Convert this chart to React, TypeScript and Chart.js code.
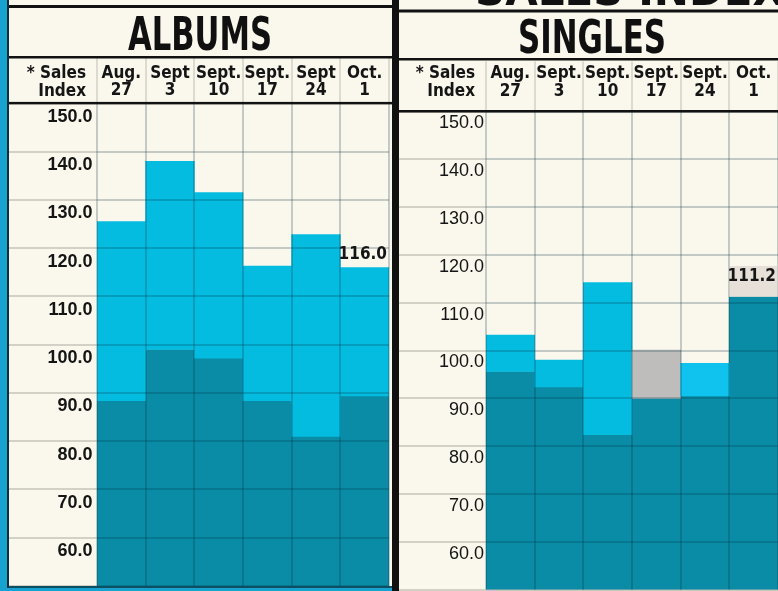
import React, { useEffect, useRef } from 'react';
import { Chart, registerables } from 'chart.js';

Chart.register(...registerables);

// ---------- data ----------
const albumWeeks = [['Aug.', '27'], ['Sept', '3'], ['Sept.', '10'], ['Sept.', '17'], ['Sept', '24'], ['Oct.', '1']];
const singleWeeks = [['Aug.', '27'], ['Sept.', '3'], ['Sept.', '10'], ['Sept.', '17'], ['Sept.', '24'], ['Oct.', '1']];

const albumsLower = [88.4, 99.0, 97.2, 88.4, 81.0, 89.4];
const albumsUpper = [125.5, 138.0, 131.5, 116.3, 122.8, 116.0];

const singlesLower = [95.6, 92.4, 82.4, 90.0, 90.5, 111.2];
const singlesUpper: (number | null)[] = [103.2, 98.0, 114.2, 100.1, 97.3, null];

const indexMin = 50;
const indexMax = 150;
const indexStep = 10;

const axisHeader = ['* Sales', 'Index'];
const headline = 'SALES INDEX';

// ---------- style ----------
const CREAM = '#FAF7EC';
const CYAN_BG = '#17A2CF';
const DARK = '#0A8BA6';
const LIGHT = '#04BCE0';
const GRAY = '#BEBDBB';
const BRIGHT = '#10C2EE';
const GRID = 'rgba(0,45,65,0.22)';
const SIDEGRID = 'rgba(110,110,100,0.28)';
const INK = '#151515';
const COND = "'Liberation Sans Narrow', 'DejaVu Sans Condensed', 'Arial Narrow', sans-serif";
const SANS = "'Liberation Sans', Arial, Helvetica, sans-serif";

type PanelCfg = {
  title: string;
  weeks: string[][];
  lower: number[];
  upper: (number | null)[];
  upperColors: string[];
  width: number;
  height: number;
  padTop: number;
  padRight: number;
  padBottom: number;
  axisW: number;
  headH: number;
  xPad: number;
  yPad: number;
  yLabelOffset: number;
  yWeight: string;
  titleX: number;
  titleBase: number;
  titleW: number;
  topLineY: number;
  titleLineY: number;
  labelRise: number;
  labelBox: boolean;
  headline?: { x: number; w: number; base: number };
};

function makeDecor(cfg: PanelCfg) {
  return {
    id: 'decor',
    afterDraw(chart: any) {
      const { ctx, chartArea } = chart;
      const W = chart.width;
      ctx.save();
      // black rules
      ctx.fillStyle = '#121212';
      ctx.fillRect(0, cfg.topLineY, W, 3);
      ctx.fillRect(0, cfg.titleLineY, W, 2.5);
      ctx.fillRect(0, chartArea.top - 1.5, W, 2.5);

      // clipped headline above top rule
      if (cfg.headline) {
        ctx.save();
        ctx.beginPath();
        ctx.rect(0, 0, W, cfg.topLineY);
        ctx.clip();
        ctx.font = `bold 44px ${COND}`;
        const hw = ctx.measureText(headline).width;
        ctx.translate(cfg.headline.x, cfg.headline.base);
        ctx.scale(cfg.headline.w / hw, 1);
        ctx.textAlign = 'left';
        ctx.textBaseline = 'alphabetic';
        ctx.fillStyle = '#111';
        ctx.fillText(headline, 0, 0);
        ctx.restore();
      }

      // panel title
      ctx.save();
      ctx.font = `bold 46px ${COND}`;
      const tw = ctx.measureText(cfg.title).width;
      ctx.translate(cfg.titleX, cfg.titleBase);
      ctx.scale(cfg.titleW / tw, 1);
      ctx.textAlign = 'center';
      ctx.textBaseline = 'alphabetic';
      ctx.fillStyle = '#101010';
      ctx.fillText(cfg.title, 0, 0);
      ctx.restore();

      // "* Sales Index" header
      ctx.font = `bold 17px ${COND}`;
      ctx.fillStyle = INK;
      ctx.textAlign = 'right';
      ctx.textBaseline = 'middle';
      ctx.fillText(axisHeader[0], chartArea.left - 11, 73.5);
      ctx.fillText(axisHeader[1], chartArea.left - 11, 91.5);

      // value label on the latest week
      const last = cfg.lower.length - 1;
      const topVal = cfg.upper[last] ?? cfg.lower[last];
      const el: any = chart.getDatasetMeta(0).data[last];
      const yPix = chart.scales.y.getPixelForValue(topVal);
      const half = el.width / 2;
      const mid = yPix - cfg.labelRise;
      if (cfg.labelBox) {
        ctx.fillStyle = 'rgba(215,205,200,0.55)';
        ctx.fillRect(el.x - half, mid - 11, el.width, yPix - (mid - 11));
      }
      ctx.font = `bold 17px ${COND}`;
      ctx.fillStyle = INK;
      ctx.textAlign = 'right';
      ctx.textBaseline = 'middle';
      ctx.fillText(topVal.toFixed(1), el.x + half - 2, mid);
      ctx.restore();
    },
  };
}

function Panel({ cfg, left }: { cfg: PanelCfg; left: number }) {
  const ref = useRef<HTMLCanvasElement>(null);
  useEffect(() => {
    const chart = new Chart(ref.current as HTMLCanvasElement, {
      type: 'bar',
      data: {
        labels: cfg.weeks,
        datasets: [
          {
            label: 'lower',
            data: cfg.lower,
            backgroundColor: DARK,
            borderWidth: 0,
            grouped: false,
            barPercentage: 1,
            categoryPercentage: 1,
            order: 2,
          } as any,
          {
            label: 'upper',
            data: cfg.upper.map((u, i) => (u == null ? null : [cfg.lower[i], u])),
            backgroundColor: cfg.upperColors,
            borderWidth: 0,
            grouped: false,
            barPercentage: 1,
            categoryPercentage: 1,
            order: 1,
          } as any,
        ],
      },
      options: {
        responsive: false,
        animation: false,
        events: [],
        layout: { padding: { top: cfg.padTop, right: cfg.padRight, bottom: cfg.padBottom, left: 0 } },
        plugins: { legend: { display: false }, tooltip: { enabled: false }, title: { display: false } },
        scales: {
          x: {
            position: 'top',
            offset: true,
            border: { display: false },
            grid: { z: 1, offset: true, color: GRID, lineWidth: 2, tickLength: cfg.headH, tickColor: SIDEGRID, tickWidth: 1.5 },
            ticks: {
              z: 1,
              color: INK,
              font: { family: COND, size: 17, weight: 'bold', lineHeight: 1.03 },
              padding: cfg.xPad,
              maxRotation: 0,
              minRotation: 0,
              autoSkip: false,
              crossAlign: 'near',
            },
            afterFit: (s: any) => {
              s.height = cfg.headH;
            },
          },
          y: {
            min: indexMin,
            max: indexMax,
            border: { display: false },
            grid: { z: 1, color: GRID, lineWidth: 2, tickLength: cfg.axisW, tickColor: SIDEGRID, tickWidth: 2 },
            ticks: {
              z: 1,
              stepSize: indexStep,
              autoSkip: false,
              color: INK,
              font: { family: SANS, size: 18, weight: cfg.yWeight as any },
              padding: cfg.yPad,
              labelOffset: cfg.yLabelOffset,
              callback: (v: any) => (Number(v) <= indexMin ? '' : Number(v).toFixed(1)),
            },
            afterFit: (s: any) => {
              s.width = cfg.axisW;
            },
          },
        },
      } as any,
      plugins: [makeDecor(cfg)],
    });
    return () => chart.destroy();
  }, []);
  return (
    <div style={{ position: 'absolute', left, top: 0, width: cfg.width, height: cfg.height, background: CREAM }}>
      <canvas ref={ref} width={cfg.width} height={cfg.height} style={{ display: 'block', width: cfg.width, height: cfg.height }} />
    </div>
  );
}

const albumsCfg: PanelCfg = {
  title: 'ALBUMS',
  weeks: albumWeeks,
  lower: albumsLower,
  upper: albumsUpper,
  upperColors: [LIGHT, LIGHT, LIGHT, LIGHT, LIGHT, LIGHT],
  width: 383,
  height: 586,
  padTop: 57.4,
  padRight: 3,
  padBottom: 0,
  axisW: 88,
  headH: 46,
  xPad: -42.4,
  yPad: -83.5,
  yLabelOffset: 13.5,
  yWeight: 'bold',
  titleX: 191,
  titleBase: 50,
  titleW: 144,
  topLineY: 5,
  titleLineY: 56,
  labelRise: 13,
  labelBox: false,
};

const singlesCfg: PanelCfg = {
  title: 'SINGLES',
  weeks: singleWeeks,
  lower: singlesLower,
  upper: singlesUpper,
  upperColors: [LIGHT, LIGHT, LIGHT, GRAY, BRIGHT, LIGHT],
  width: 379,
  height: 591,
  padTop: 61.5,
  padRight: 0,
  padBottom: 1.5,
  axisW: 87,
  headH: 50,
  xPad: -38.8,
  yPad: -85,
  yLabelOffset: 12,
  yWeight: 'normal',
  titleX: 193,
  titleBase: 53,
  titleW: 148,
  topLineY: 9.5,
  titleLineY: 58,
  labelRise: 20,
  labelBox: true,
  headline: { x: 76, w: 310, base: 5 },
};

export default function App() {
  return (
    <div
      style={{
        position: 'fixed',
        left: 0,
        top: 0,
        width: 778,
        height: 591,
        background: CYAN_BG,
        overflow: 'hidden',
      }}
    >
      <div style={{ position: 'absolute', left: 7, top: 0, width: 2, height: 588, background: '#0E2F3A' }} />
      <div style={{ position: 'absolute', left: 9, top: 586, width: 383, height: 2, background: '#0C4E62' }} />
      <Panel cfg={albumsCfg} left={9} />
      <div style={{ position: 'absolute', left: 392, top: 0, width: 7, height: 591, background: '#111' }} />
      <Panel cfg={singlesCfg} left={399} />
    </div>
  );
}
